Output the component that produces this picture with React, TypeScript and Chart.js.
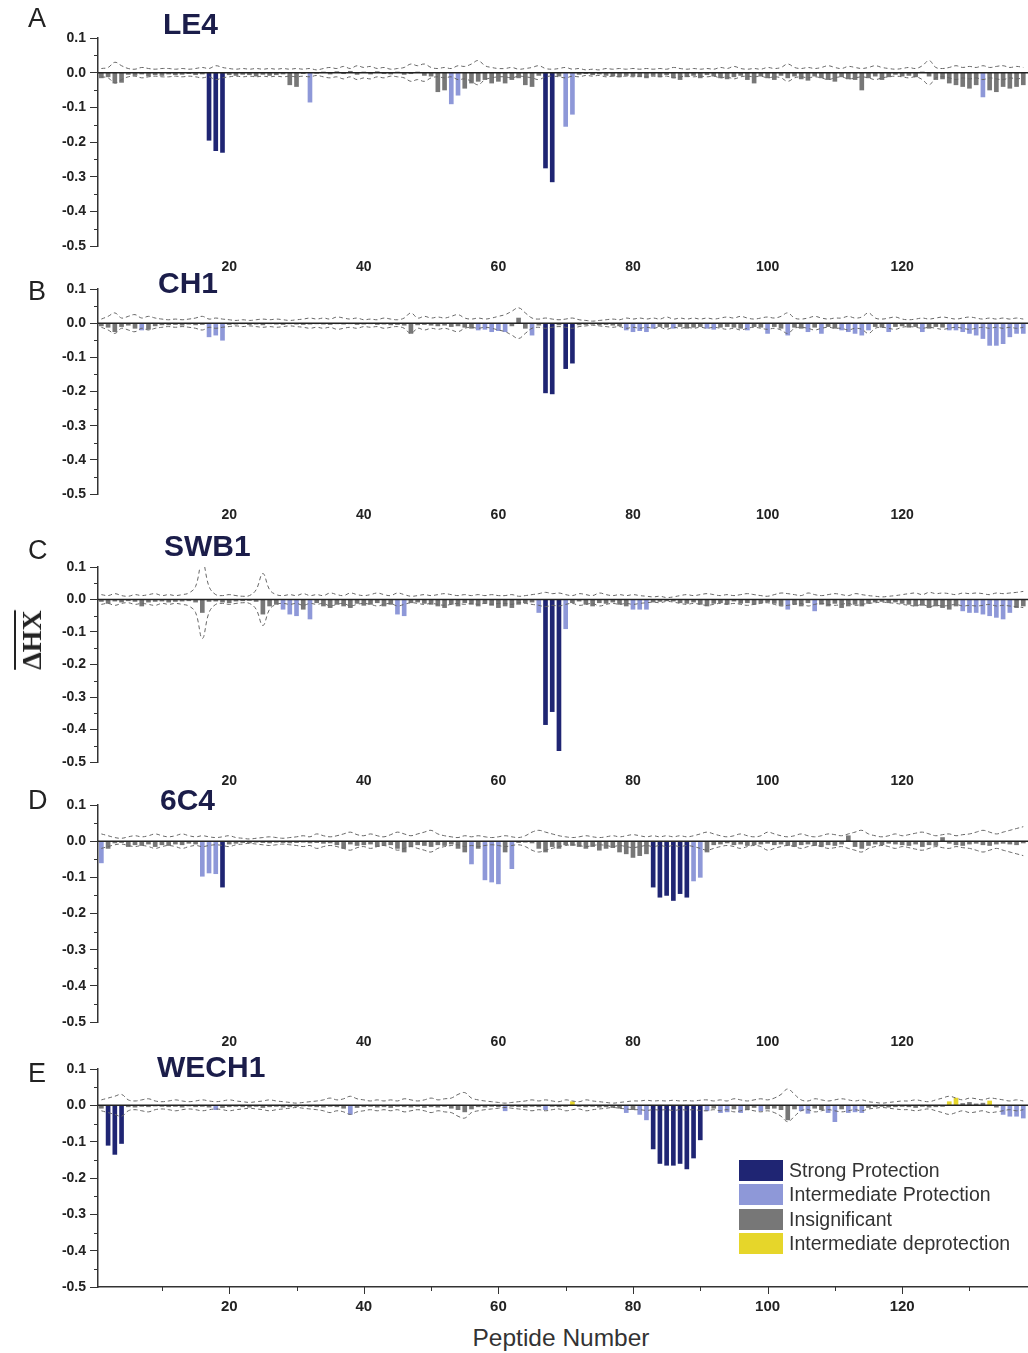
import React, { useEffect, useRef } from "react";
import { Chart, registerables } from "chart.js";

Chart.register(...registerables);

// ---------- data ----------
const peptideNumbers: number[] = Array.from({ length: 138 }, (_, i) => i + 1);
const xTickValues = [20, 40, 60, 80, 100, 120];
const xMinorTickValues = [10, 30, 50, 70, 90, 110, 130];
const yTickValues = [0.1, 0, -0.1, -0.2, -0.3, -0.4, -0.5];
const yMinorTickValues = [0.05, -0.05, -0.15, -0.25, -0.35, -0.45];

const legendLabels = ["Strong Protection", "Intermediate Protection", "Insignificant", "Intermediate deprotection"];

// LE4
const le4Values = [
  -0.015, -0.012, -0.03, -0.028, -0.005, -0.008, -0.004, -0.01, -0.006, -0.008,
  -0.004, -0.006, -0.005, -0.003, -0.006, -0.004, -0.195, -0.225, -0.23, -0.006,
  -0.008, -0.005, -0.006, -0.01, -0.005, -0.008, -0.006, -0.004, -0.035, -0.04,
  -0.003, -0.085, -0.002, 0.002, -0.004, 0.003, -0.003, 0.004, -0.005, 0.002,
  -0.004, 0.003, -0.003, -0.004, 0.002, -0.005, -0.003, 0.002, -0.008, -0.01,
  -0.055, -0.05, -0.09, -0.065, -0.045, -0.03, -0.025, -0.02, -0.03, -0.025,
  -0.03, -0.02, -0.015, -0.035, -0.04, -0.008, -0.275, -0.315, -0.01, -0.155,
  -0.12, -0.005, -0.003, -0.006, -0.004, -0.008, -0.01, -0.012, -0.008, -0.01,
  -0.012, -0.015, -0.008, -0.012, -0.006, -0.015, -0.02, -0.012, -0.008, -0.015,
  -0.006, -0.01, -0.015, -0.018, -0.012, -0.008, -0.02, -0.03, -0.01, -0.015,
  -0.02, -0.008, -0.015, -0.01, -0.018, -0.022, -0.01, -0.015, -0.02, -0.025,
  -0.012, -0.018, -0.02, -0.05, -0.015, -0.01, -0.02, -0.012, -0.005, -0.01,
  -0.008, -0.012, 0.002, -0.01, -0.02, -0.018, -0.03, -0.035, -0.04, -0.045,
  -0.035, -0.07, -0.05, -0.055, -0.04, -0.045, -0.04, -0.035,
];
const le4Strong = [17, 18, 19, 67, 68];
const le4Inter = [32, 53, 54, 70, 71, 132];
const le4Deprot: number[] = [];
const le4Thresh = [
  0.012, 0.015, 0.03, 0.02, 0.012, 0.01, 0.015, 0.012, 0.01, 0.012,
  0.012, 0.01, 0.012, 0.01, 0.012, 0.015, 0.012, 0.02, 0.015, 0.012,
  0.01, 0.012, 0.01, 0.012, 0.01, 0.012, 0.01, 0.012, 0.01, 0.012,
  0.01, 0.012, 0.008, 0.012, 0.015, 0.012, 0.018, 0.012, 0.02, 0.015,
  0.018, 0.012, 0.015, 0.01, 0.012, 0.015, 0.025, 0.02, 0.025, 0.015,
  0.012, 0.015, 0.012, 0.02, 0.018, 0.025, 0.035, 0.02, 0.015, 0.012,
  0.012, 0.015, 0.01, 0.012, 0.015, 0.02, 0.012, 0.01, 0.012, 0.015,
  0.01, 0.012, 0.008, 0.01, 0.008, 0.012, 0.01, 0.012, 0.01, 0.012,
  0.01, 0.012, 0.01, 0.012, 0.01, 0.015, 0.012, 0.01, 0.012, 0.01,
  0.012, 0.01, 0.015, 0.012, 0.018, 0.012, 0.01, 0.012, 0.01, 0.015,
  0.012, 0.015, 0.025, 0.015, 0.012, 0.015, 0.012, 0.015, 0.02, 0.015,
  0.012, 0.018, 0.015, 0.012, 0.015, 0.02, 0.015, 0.012, 0.01, 0.012,
  0.015, 0.012, 0.02, 0.035, 0.015, 0.012, 0.015, 0.02, 0.015, 0.018,
  0.015, 0.02, 0.015, 0.018, 0.02, 0.015, 0.018, 0.015,
];

// CH1
const ch1Values = [
  -0.008, -0.012, -0.025, -0.01, -0.006, -0.015, -0.02, -0.018, -0.008, -0.005,
  -0.005, -0.004, -0.006, -0.003, -0.005, -0.004, -0.04, -0.035, -0.05, -0.004,
  -0.003, -0.002, -0.004, -0.003, -0.005, -0.002, -0.003, -0.004, -0.002, -0.003,
  -0.004, -0.003, -0.002, -0.003, -0.004, -0.002, -0.003, -0.002, -0.004, -0.003,
  -0.002, -0.004, -0.003, -0.005, -0.004, -0.006, -0.03, -0.005, -0.004, -0.006,
  -0.008, -0.006, -0.01, -0.008, -0.012, -0.015, -0.02, -0.018, -0.025, -0.022,
  -0.025, -0.008, 0.015, -0.015, -0.035, -0.006, -0.204, -0.207, -0.005, -0.133,
  -0.117, -0.005, -0.004, -0.003, -0.005, -0.004, -0.006, -0.008, -0.02, -0.025,
  -0.022, -0.025, -0.015, -0.01, -0.012, -0.015, -0.01, -0.015, -0.012, -0.01,
  -0.015, -0.018, -0.012, -0.01, -0.012, -0.015, -0.02, -0.01, -0.012, -0.03,
  -0.01, -0.015, -0.035, -0.012, -0.015, -0.025, -0.012, -0.03, -0.01, -0.015,
  -0.02, -0.025, -0.03, -0.035, -0.02, -0.01, -0.012, -0.025, -0.01, -0.008,
  -0.012, -0.01, -0.025, -0.015, -0.01, -0.012, -0.02, -0.02, -0.025, -0.03,
  -0.035, -0.045, -0.065, -0.065, -0.06, -0.04, -0.03, -0.03,
];
const ch1Strong = [67, 68, 70, 71];
const ch1Inter = [
  7, 17, 18, 19, 57, 58, 59, 60, 61, 65, 79, 80, 81, 82, 83, 86, 91, 92, 97, 100,
  103, 106, 108, 111, 112, 113, 114, 115, 118, 123, 127, 128, 129, 130, 131, 132,
  133, 134, 135, 136, 137, 138,
];
const ch1Deprot: number[] = [];
const ch1Thresh = [
  0.012, 0.02, 0.03, 0.015, 0.02, 0.025, 0.015, 0.02, 0.015, 0.012,
  0.01, 0.012, 0.01, 0.012, 0.015, 0.02, 0.012, 0.015, 0.012, 0.01,
  0.008, 0.01, 0.008, 0.01, 0.012, 0.01, 0.012, 0.01, 0.008, 0.01,
  0.012, 0.015, 0.012, 0.015, 0.012, 0.018, 0.015, 0.012, 0.015, 0.01,
  0.012, 0.01, 0.015, 0.012, 0.01, 0.015, 0.03, 0.015, 0.02, 0.015,
  0.018, 0.015, 0.02, 0.025, 0.015, 0.012, 0.015, 0.012, 0.015, 0.02,
  0.025, 0.035, 0.045, 0.03, 0.015, 0.012, 0.015, 0.012, 0.01, 0.012,
  0.015, 0.01, 0.008, 0.006, 0.008, 0.01, 0.012, 0.01, 0.015, 0.012,
  0.015, 0.012, 0.015, 0.012, 0.018, 0.012, 0.015, 0.012, 0.015, 0.012,
  0.015, 0.012, 0.015, 0.018, 0.015, 0.02, 0.015, 0.012, 0.015, 0.018,
  0.015, 0.02, 0.03, 0.015, 0.012, 0.015, 0.02, 0.015, 0.012, 0.015,
  0.015, 0.02, 0.015, 0.018, 0.03, 0.015, 0.012, 0.015, 0.018, 0.012,
  0.01, 0.012, 0.015, 0.012, 0.015, 0.018, 0.015, 0.012, 0.015, 0.018,
  0.015, 0.012, 0.015, 0.012, 0.015, 0.012, 0.015, 0.012,
];

// SWB1
const swb1Values = [
  -0.006, -0.012, -0.005, -0.008, -0.004, -0.006, -0.02, -0.008, -0.006, -0.005,
  -0.008, -0.006, -0.005, -0.004, -0.008, -0.04, -0.006, -0.005, -0.008, -0.01,
  -0.005, -0.004, -0.003, -0.006, -0.045, -0.02, -0.015, -0.03, -0.045, -0.05,
  -0.03, -0.06, -0.01, -0.02, -0.025, -0.015, -0.02, -0.025, -0.012, -0.018,
  -0.015, -0.01, -0.02, -0.015, -0.045, -0.05, -0.01, -0.008, -0.012, -0.015,
  -0.02, -0.025, -0.015, -0.02, -0.01, -0.015, -0.02, -0.012, -0.018, -0.025,
  -0.02, -0.025, -0.015, -0.01, -0.008, -0.04, -0.385, -0.345, -0.465, -0.09,
  -0.01, -0.005, -0.015, -0.02, -0.01, -0.012, -0.008, -0.015, -0.02, -0.03,
  -0.03, -0.03, -0.008, -0.006, -0.004, -0.005, -0.01, -0.012, -0.008, -0.015,
  -0.02, -0.012, -0.01, -0.015, -0.005, -0.012, -0.01, -0.015, -0.01, -0.008,
  -0.012, -0.018, -0.03, -0.015, -0.02, -0.01, -0.035, -0.015, -0.02, -0.012,
  -0.025, -0.02, -0.015, -0.02, -0.012, -0.008, -0.006, -0.01, -0.008, -0.012,
  -0.015, -0.02, -0.018, -0.025, -0.02, -0.025, -0.03, -0.02, -0.035, -0.04,
  -0.04, -0.045, -0.05, -0.055, -0.06, -0.04, -0.025, -0.02,
];
const swb1Strong = [67, 68, 69];
const swb1Inter = [28, 29, 30, 32, 45, 46, 66, 70, 80, 81, 82, 103, 107, 129, 130, 131, 132, 133, 134, 135, 136];
const swb1Deprot: number[] = [];
const swb1Thresh = [
  0.015, 0.012, 0.018, 0.012, 0.01, 0.015, 0.012, 0.015, 0.018, 0.012,
  0.015, 0.012, 0.015, 0.02, 0.04, 0.12, 0.04, 0.015, 0.012, 0.015,
  0.012, 0.01, 0.012, 0.03, 0.08, 0.03, 0.015, 0.012, 0.015, 0.012,
  0.018, 0.012, 0.015, 0.012, 0.02, 0.015, 0.012, 0.02, 0.015, 0.012,
  0.015, 0.02, 0.015, 0.012, 0.02, 0.015, 0.01, 0.012, 0.015, 0.012,
  0.015, 0.018, 0.015, 0.012, 0.015, 0.012, 0.015, 0.012, 0.015, 0.012,
  0.012, 0.015, 0.01, 0.012, 0.015, 0.018, 0.022, 0.018, 0.02, 0.015,
  0.012, 0.018, 0.015, 0.012, 0.02, 0.015, 0.012, 0.015, 0.012, 0.015,
  0.012, 0.01, 0.008, 0.01, 0.006, 0.008, 0.012, 0.015, 0.012, 0.015,
  0.018, 0.015, 0.012, 0.015, 0.012, 0.015, 0.018, 0.015, 0.012, 0.01,
  0.015, 0.02, 0.018, 0.015, 0.012, 0.02, 0.015, 0.012, 0.015, 0.018,
  0.015, 0.012, 0.018, 0.015, 0.012, 0.01, 0.008, 0.01, 0.012, 0.015,
  0.018, 0.02, 0.015, 0.022, 0.018, 0.02, 0.018, 0.015, 0.02, 0.018,
  0.02, 0.018, 0.015, 0.02, 0.018, 0.02, 0.022, 0.025,
];

// 6C4
const c64Values = [
  -0.06, -0.02, -0.005, -0.004, -0.015, -0.01, -0.012, -0.008, -0.015, -0.01,
  -0.012, -0.008, -0.01, -0.006, -0.008, -0.097, -0.088, -0.09, -0.127, -0.008,
  -0.006, -0.004, -0.005, -0.003, -0.004, -0.005, -0.003, -0.004, -0.005, -0.004,
  -0.003, -0.005, -0.004, -0.006, -0.005, -0.01, -0.02, -0.008, -0.012, -0.01,
  -0.008, -0.015, -0.012, -0.01, -0.02, -0.03, -0.015, -0.01, -0.012, -0.015,
  -0.01, -0.012, -0.008, -0.02, -0.03, -0.063, -0.02, -0.107, -0.113, -0.118,
  -0.03, -0.076, -0.004, -0.003, -0.005, -0.02, -0.03, -0.015, -0.02, -0.01,
  -0.012, -0.015, -0.02, -0.015, -0.025, -0.02, -0.018, -0.03, -0.035, -0.045,
  -0.04, -0.035, -0.127, -0.155, -0.15, -0.164, -0.145, -0.155, -0.11, -0.1,
  -0.03, -0.01, -0.008, -0.005, -0.01, -0.008, -0.012, -0.01, -0.008, -0.006,
  -0.01, -0.008, -0.012, -0.015, -0.01, -0.008, -0.012, -0.015, -0.01, -0.012,
  -0.008, 0.015, -0.015, -0.02, -0.012, -0.008, -0.01, -0.006, -0.008, -0.01,
  -0.012, -0.008, -0.015, -0.01, -0.012, 0.01, -0.006, -0.01, -0.012, -0.008,
  -0.006, -0.01, -0.012, -0.008, -0.006, -0.008, -0.01, -0.005,
];
const c64Strong = [19, 83, 84, 85, 86, 87, 88];
const c64Inter = [1, 16, 17, 18, 56, 58, 59, 60, 62, 89, 90];
const c64Deprot: number[] = [];
const c64Thresh = [
  0.02, 0.015, 0.01, 0.008, 0.012, 0.015, 0.012, 0.015, 0.02, 0.015,
  0.012, 0.015, 0.02, 0.015, 0.012, 0.015, 0.012, 0.01, 0.012, 0.015,
  0.01, 0.008, 0.006, 0.008, 0.01, 0.012, 0.01, 0.008, 0.01, 0.012,
  0.015, 0.012, 0.02, 0.015, 0.012, 0.015, 0.02, 0.025, 0.018, 0.015,
  0.02, 0.015, 0.012, 0.018, 0.025, 0.02, 0.015, 0.02, 0.025, 0.03,
  0.02, 0.015, 0.012, 0.01, 0.015, 0.012, 0.015, 0.012, 0.01, 0.012,
  0.015, 0.012, 0.01, 0.015, 0.025, 0.03, 0.025, 0.02, 0.015, 0.012,
  0.01, 0.012, 0.015, 0.012, 0.01, 0.012, 0.015, 0.012, 0.015, 0.018,
  0.015, 0.012, 0.015, 0.012, 0.015, 0.012, 0.015, 0.012, 0.015, 0.02,
  0.025, 0.02, 0.015, 0.012, 0.015, 0.02, 0.015, 0.012, 0.015, 0.025,
  0.02, 0.015, 0.012, 0.015, 0.02, 0.015, 0.012, 0.015, 0.02, 0.018,
  0.015, 0.02, 0.025, 0.03, 0.02, 0.015, 0.012, 0.015, 0.02, 0.015,
  0.018, 0.022, 0.025, 0.02, 0.015, 0.018, 0.02, 0.015, 0.018, 0.02,
  0.025, 0.03, 0.025, 0.02, 0.025, 0.03, 0.035, 0.04,
];

// WECH1
const wech1Values = [
  -0.008, -0.11, -0.135, -0.105, -0.004, -0.005, -0.003, -0.004, -0.002, -0.003,
  -0.004, -0.003, -0.005, -0.002, -0.004, -0.003, -0.005, -0.012, -0.006, -0.004,
  -0.003, -0.004, -0.005, -0.003, -0.006, -0.004, -0.003, -0.005, -0.004, -0.003,
  -0.002, -0.003, -0.004, -0.005, -0.003, -0.004, -0.008, -0.025, -0.006, -0.004,
  -0.003, -0.005, -0.004, -0.006, -0.003, -0.004, -0.005, -0.003, -0.006, -0.004,
  -0.005, -0.003, -0.008, -0.012, -0.018, -0.01, -0.004, -0.005, -0.003, -0.004,
  -0.015, -0.003, -0.004, -0.005, -0.003, -0.004, -0.012, -0.003, -0.004, -0.003,
  0.01, -0.003, -0.004, -0.003, -0.005, -0.004, -0.006, -0.008, -0.02, -0.012,
  -0.025, -0.04, -0.12, -0.16, -0.165, -0.165, -0.16, -0.175, -0.145, -0.095,
  -0.015, -0.008, -0.02, -0.018, -0.01, -0.02, -0.012, -0.006, -0.015, -0.01,
  -0.008, -0.012, -0.04, -0.01, -0.015, -0.022, -0.008, -0.012, -0.02, -0.045,
  -0.01, -0.02, -0.018, -0.02, -0.006, -0.004, -0.003, -0.005, -0.004, -0.003,
  -0.004, -0.006, -0.003, -0.005, -0.004, -0.003, 0.01, 0.02, 0.005, 0.008,
  0.004, 0.006, 0.012, -0.005, -0.025, -0.03, -0.03, -0.035,
];
const wech1Strong = [2, 3, 4, 83, 84, 85, 86, 87, 88, 89, 90];
const wech1Inter = [18, 38, 61, 67, 79, 81, 82, 91, 93, 94, 96, 99, 105, 106, 109, 110, 112, 113, 114, 135, 136, 137, 138];
const wech1Deprot = [71, 127, 128, 133];
const wech1Thresh = [
  0.015, 0.02, 0.025, 0.03, 0.015, 0.012, 0.015, 0.018, 0.012, 0.01,
  0.012, 0.015, 0.012, 0.01, 0.012, 0.015, 0.012, 0.01, 0.012, 0.015,
  0.012, 0.01, 0.008, 0.01, 0.012, 0.015, 0.012, 0.01, 0.008, 0.006,
  0.008, 0.01, 0.012, 0.015, 0.02, 0.015, 0.018, 0.025, 0.018, 0.015,
  0.012, 0.015, 0.012, 0.015, 0.012, 0.018, 0.015, 0.012, 0.015, 0.02,
  0.015, 0.018, 0.02, 0.03, 0.035, 0.02, 0.015, 0.012, 0.01, 0.008,
  0.006, 0.008, 0.01, 0.012, 0.015, 0.012, 0.015, 0.012, 0.01, 0.015,
  0.012, 0.01, 0.015, 0.012, 0.01, 0.008, 0.006, 0.008, 0.01, 0.012,
  0.012, 0.014, 0.012, 0.013, 0.012, 0.014, 0.012, 0.013, 0.012, 0.014,
  0.015, 0.012, 0.015, 0.012, 0.018, 0.015, 0.012, 0.015, 0.018, 0.015,
  0.02, 0.03, 0.045, 0.03, 0.015, 0.012, 0.018, 0.015, 0.012, 0.015,
  0.018, 0.015, 0.012, 0.015, 0.01, 0.008, 0.006, 0.008, 0.01, 0.012,
  0.012, 0.015, 0.012, 0.01, 0.015, 0.02, 0.025, 0.02, 0.015, 0.02,
  0.018, 0.015, 0.02, 0.018, 0.015, 0.012, 0.015, 0.012,
];

// ---------- styling ----------
const COLOR_STRONG = "#1f2573";
const COLOR_INTER = "#8e98d8";
const COLOR_INSIG = "#777777";
const COLOR_DEPROT = "#e6d62a";
const legendColors = [COLOR_STRONG, COLOR_INTER, COLOR_INSIG, COLOR_DEPROT];
const SANS = "'Liberation Sans', Arial, Helvetica, sans-serif";
const AXIS_LEFT = 98;
const PAD_TOP = 14;
const X_MIN = 0.5;
const X_MAX = 138.7;

type Panel = {
  letter: string;
  title: string;
  values: number[];
  strong: number[];
  inter: number[];
  deprot: number[];
  thresh: number[];
  areaTop: number;
  areaBottom: number;
  labelY: number;
  titleX: number;
  titleY: number;
  letterY: number;
  last: boolean;
};

const panels: Panel[] = [
  { letter: "A", title: "LE4", values: le4Values, strong: le4Strong, inter: le4Inter, deprot: le4Deprot, thresh: le4Thresh, areaTop: 38, areaBottom: 246, labelY: 267, titleX: 163, titleY: 24, letterY: 18, last: false },
  { letter: "B", title: "CH1", values: ch1Values, strong: ch1Strong, inter: ch1Inter, deprot: ch1Deprot, thresh: ch1Thresh, areaTop: 289, areaBottom: 494, labelY: 515, titleX: 158, titleY: 283, letterY: 291, last: false },
  { letter: "C", title: "SWB1", values: swb1Values, strong: swb1Strong, inter: swb1Inter, deprot: swb1Deprot, thresh: swb1Thresh, areaTop: 567, areaBottom: 762, labelY: 781, titleX: 164, titleY: 546, letterY: 550, last: false },
  { letter: "D", title: "6C4", values: c64Values, strong: c64Strong, inter: c64Inter, deprot: c64Deprot, thresh: c64Thresh, areaTop: 805, areaBottom: 1022, labelY: 1042, titleX: 160, titleY: 800, letterY: 800, last: false },
  { letter: "E", title: "WECH1", values: wech1Values, strong: wech1Strong, inter: wech1Inter, deprot: wech1Deprot, thresh: wech1Thresh, areaTop: 1069, areaBottom: 1287, labelY: 1307, titleX: 157, titleY: 1067, letterY: 1073, last: true },
];

const decorPlugin = {
  id: "panelDecor",
  afterDatasetsDraw(chart: any) {
    const { ctx, chartArea, scales } = chart;
    const y0 = scales.y.getPixelForValue(0);
    ctx.save();
    ctx.strokeStyle = "#222";
    ctx.lineWidth = 1.5;
    ctx.beginPath();
    ctx.moveTo(chartArea.left, y0);
    ctx.lineTo(chartArea.right, y0);
    ctx.stroke();
    ctx.restore();
  },
  afterDraw(chart: any, _args: any, opts: any) {
    const { ctx, chartArea, scales } = chart;
    ctx.save();
    ctx.strokeStyle = "#333";
    ctx.lineWidth = 1;
    ctx.beginPath();
    yMinorTickValues.forEach((v) => {
      const y = Math.round(scales.y.getPixelForValue(v)) + 0.5;
      ctx.moveTo(chartArea.left - 4, y);
      ctx.lineTo(chartArea.left, y);
    });
    if (opts && opts.xAxisTicks) {
      xMinorTickValues.forEach((v) => {
        const x = Math.round(scales.x.getPixelForValue(v)) + 0.5;
        ctx.moveTo(x, chartArea.bottom);
        ctx.lineTo(x, chartArea.bottom + 4);
      });
      xTickValues.forEach((v) => {
        const x = Math.round(scales.x.getPixelForValue(v)) + 0.5;
        ctx.moveTo(x, chartArea.bottom);
        ctx.lineTo(x, chartArea.bottom + 7);
      });
    }
    ctx.stroke();
    ctx.restore();
  },
};

function PanelChart({ p }: { p: Panel }) {
  const ref = useRef<HTMLCanvasElement | null>(null);
  const xFont = p.last ? 15 : 14;
  const xAxisH = p.labelY + 12 - p.areaBottom;
  const height = PAD_TOP + (p.areaBottom - p.areaTop) + xAxisH;
  const labelPad = p.labelY - p.areaBottom - xFont * 0.6;

  useEffect(() => {
    const colors = p.values.map((_, i) => {
      const n = peptideNumbers[i];
      if (p.strong.includes(n)) return COLOR_STRONG;
      if (p.inter.includes(n)) return COLOR_INTER;
      if (p.deprot.includes(n)) return COLOR_DEPROT;
      return COLOR_INSIG;
    });
    const bars = p.values.map((v, i) => ({ x: peptideNumbers[i], y: v }));
    const upper = p.thresh.map((t, i) => ({ x: peptideNumbers[i], y: t }));
    const lower = p.thresh.map((t, i) => ({ x: peptideNumbers[i], y: -t }));
    const lineStyle = {
      type: "line" as const,
      borderColor: "#666",
      borderWidth: 1,
      borderDash: [4, 3],
      pointRadius: 0,
      tension: 0.4,
      fill: false,
      order: 0,
    };
    const chart = new Chart(ref.current as HTMLCanvasElement, {
      type: "bar",
      data: {
        datasets: [
          { ...lineStyle, data: upper } as any,
          { ...lineStyle, data: lower } as any,
          { type: "bar", data: bars, backgroundColor: colors, barThickness: 4, order: 1 } as any,
        ],
      },
      options: {
        animation: false,
        responsive: false,
        maintainAspectRatio: false,
        layout: { padding: { top: PAD_TOP, left: 0, right: 0, bottom: 0 }, autoPadding: false },
        plugins: {
          legend: { display: false },
          tooltip: { enabled: false },
          panelDecor: { xAxisTicks: p.last },
        } as any,
        scales: {
          x: {
            type: "linear",
            min: X_MIN,
            max: X_MAX,
            offset: false,
            afterBuildTicks: (s: any) => {
              s.ticks = xTickValues.map((v) => ({ value: v }));
            },
            afterFit: (s: any) => {
              s.height = xAxisH;
            },
            grid: { display: false, drawOnChartArea: false, drawTicks: false },
            border: { display: p.last, color: "#333", width: 1.5 },
            ticks: {
              autoSkip: false,
              maxRotation: 0,
              padding: labelPad,
              color: "#222",
              font: { family: SANS, size: xFont, weight: "bold" },
            },
          },
          y: {
            min: -0.5,
            max: 0.1,
            afterBuildTicks: (s: any) => {
              s.ticks = yTickValues.map((v) => ({ value: v }));
            },
            afterFit: (s: any) => {
              s.width = AXIS_LEFT;
            },
            grid: { drawOnChartArea: false, drawTicks: true, tickLength: 8, color: "#333", tickColor: "#333" },
            border: { color: "#333", width: 1.5 },
            ticks: {
              padding: 4,
              color: "#222",
              font: { family: SANS, size: 14, weight: "bold" },
              callback: (v: any) => Number(v).toFixed(1),
            },
          },
        },
      } as any,
      plugins: [decorPlugin],
    });
    return () => chart.destroy();
  }, []);

  return (
    <canvas
      ref={ref}
      width={1028}
      height={height}
      style={{ position: "absolute", left: 0, top: p.areaTop - PAD_TOP, width: 1028, height }}
    />
  );
}

export default function App() {
  return (
    <div style={{ position: "absolute", left: 0, top: 0, width: 1028, height: 1353, overflow: "hidden", background: "#fff" }}>
      {panels.map((p) => (
        <React.Fragment key={p.letter}>
          <PanelChart p={p} />
          <div style={{ position: "absolute", left: 28, top: p.letterY - 13, fontFamily: SANS, fontSize: 27, lineHeight: "27px", color: "#222" }}>
            {p.letter}
          </div>
          <div style={{ position: "absolute", left: p.titleX, top: p.titleY - 15, fontFamily: SANS, fontSize: 30, lineHeight: "30px", fontWeight: "bold", color: "#1b1d4a" }}>
            {p.title}
          </div>
        </React.Fragment>
      ))}
      <div
        style={{
          position: "absolute",
          left: 32,
          top: 640,
          transform: "translate(-50%, -50%) rotate(-90deg)",
          fontFamily: "'Liberation Serif', 'DejaVu Serif', serif",
          fontWeight: "bold",
          fontSize: 28,
          lineHeight: "28px",
          whiteSpace: "nowrap",
          color: "#222",
          textDecoration: "overline",
        }}
      >
        ΔHX
      </div>
      <div style={{ position: "absolute", left: 561, top: 1338, transform: "translate(-50%, -50%)", fontFamily: SANS, fontSize: 24.5, color: "#333", whiteSpace: "nowrap" }}>
        Peptide Number
      </div>
      {legendLabels.map((label, i) => (
        <div key={label} style={{ position: "absolute", left: 739, top: 1160 + i * 24.3, height: 21, display: "flex", alignItems: "center" }}>
          <div style={{ width: 44, height: 21, background: legendColors[i] }} />
          <div style={{ marginLeft: 6, fontFamily: SANS, fontSize: 19.5, color: "#333", whiteSpace: "nowrap" }}>{label}</div>
        </div>
      ))}
    </div>
  );
}
